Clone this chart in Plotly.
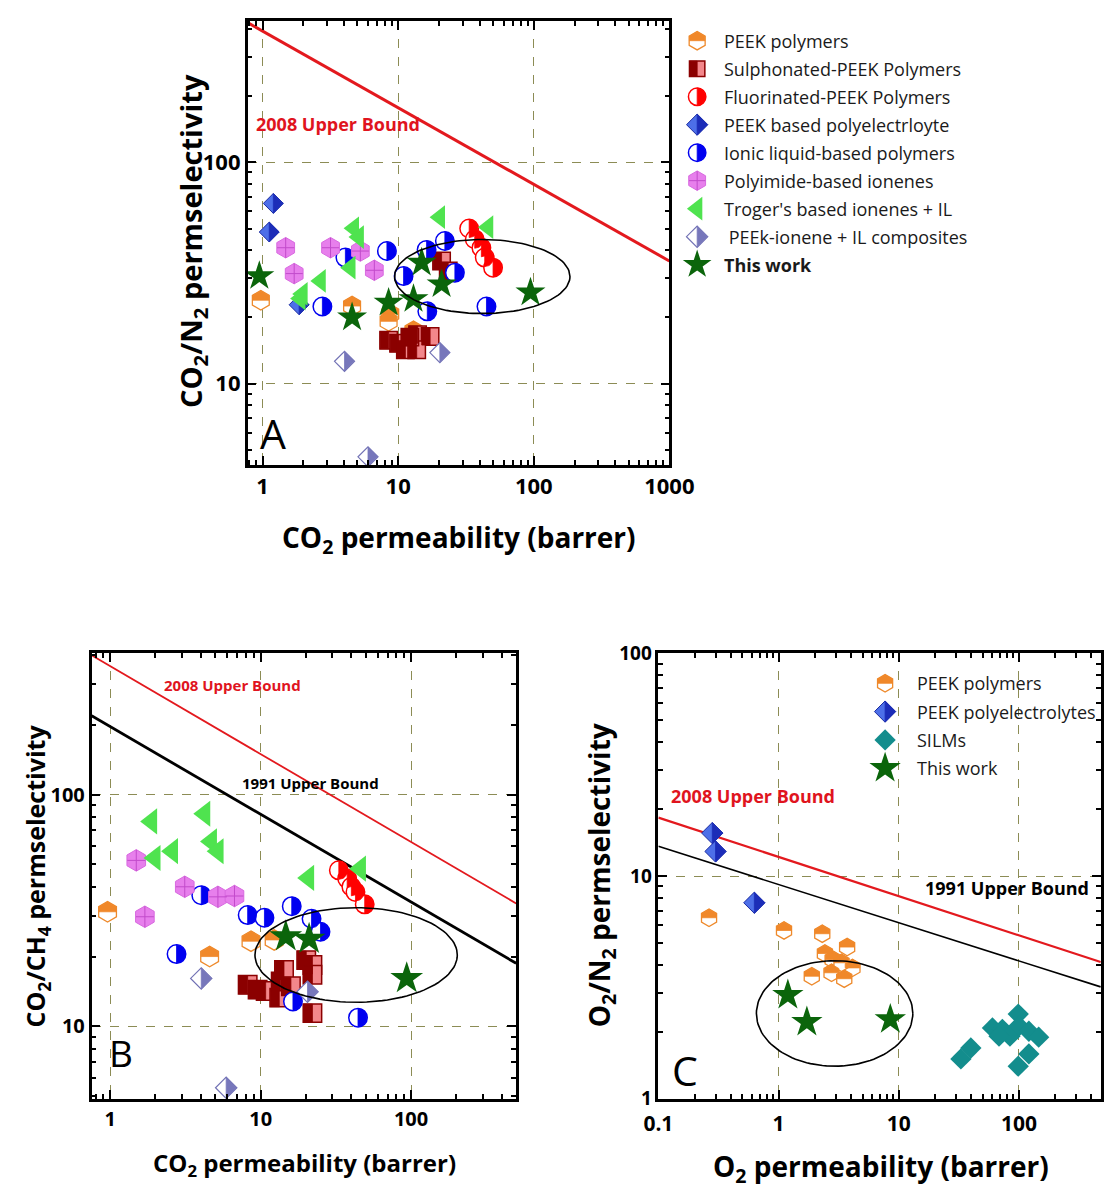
import numpy as np
import plotly.graph_objects as go

W, H = 1105, 1189          # target picture size (pixels)
# observed mapping page-css-px -> picture-px :  pic = A + B * css
AX, BX = 11.0, 0.970
AY, BY = 11.2, 0.982
FW = int(np.ceil((W - AX) / BX)) + 1
FH = int(np.ceil((H - AY) / BY)) + 1
FS = 1.03                  # font scale compensation
MS = 1.025                 # marker scale compensation
FONT = "Open Sans"

# ---------------- Panel A : CO2/N2 ----------------
A_peek_x = [0.97, 4.57, 8.74, 8.50, 12.97]
A_peek_y = [23.8, 22.4, 20.6, 19.1, 17.3]
A_speek_x = [20.9, 23.4, 8.50, 10.07, 11.3, 13.9, 17.2, 13.7, 12.2]
A_speek_y = [35.8, 32.3, 15.7, 15.2, 14.2, 16.6, 16.3, 14.2, 16.2]
A_fpeek_x = [33.4, 36.7, 41.1, 43.5, 50.1]
A_fpeek_y = [50.2, 44.9, 41.1, 37.1, 33.4]
A_pe_x = [1.20, 1.12, 1.86]
A_pe_y = [65.2, 48.4, 22.7]
A_il_x = [2.76, 4.08, 8.26, 10.96, 16.2, 22.1, 26.2, 16.4, 44.8]
A_il_y = [22.3, 37.1, 39.7, 30.6, 40.2, 44.1, 31.7, 21.2, 22.3]
A_pi_x = [1.48, 3.17, 5.26, 1.71, 6.67]
A_pi_y = [41.1, 41.1, 39.7, 31.4, 32.5]
A_tr_x = [20.3, 46.1, 4.71, 5.12, 4.44, 2.68, 1.97, 1.90]
A_tr_y = [56.5, 50.9, 50.3, 45.9, 33.4, 29.1, 25.4, 24.2]
A_pic_x = [4.02, 20.3, 5.99]
A_pic_y = [12.6, 13.8, 4.66]
A_tw_x = [0.946, 4.57, 8.50, 12.97, 14.9, 20.9, 94.6]
A_tw_y = [30.6, 19.9, 23.2, 24.1, 35.2, 28.1, 25.8]
A_ub08_x = [0.776, 1000]
A_ub08_y = [428, 35.8]
A_ell_x = [9.4, 185]
A_ell_y = [20.7, 44.8]

# ---------------- Panel B : CO2/CH4 ----------------
B_peek_x = [0.96, 8.63, 4.58, 12.3]
B_peek_y = [31.2, 23.3, 20.0, 23.6]
B_speek_x = [8.20, 9.55, 10.8, 13.3, 13.6, 14.3, 15.9, 20.1, 22.1, 22.1, 22.1]
B_speek_y = [15.1, 14.4, 14.2, 13.3, 15.6, 17.5, 14.9, 19.3, 18.4, 16.7, 11.4]
B_fpeek_x = [33.1, 37.6, 40.1, 42.7, 49.2]
B_fpeek_y = [47.1, 43.4, 40.0, 38.0, 33.6]
B_il_x = [4.03, 8.20, 10.6, 16.1, 21.8, 25.0, 2.76, 16.4, 44.4]
B_il_y = [36.8, 30.2, 29.4, 33.0, 29.1, 25.6, 20.5, 12.8, 10.9]
B_pi_x = [1.49, 3.13, 5.20, 6.70, 1.70]
B_pi_y = [52.0, 40.0, 36.2, 36.5, 29.7]
B_tr_x = [1.88, 4.24, 4.70, 5.20, 1.98, 2.59, 20.8, 46.0]
B_tr_y = [76.6, 82.6, 62.8, 56.9, 53.2, 57.0, 43.7, 47.9]
B_pic_x = [4.03, 20.5, 5.90]
B_pic_y = [16.1, 14.1, 5.43]
B_tw_x = [14.7, 21.0, 93.6]
B_tw_y = [24.4, 23.8, 16.1]
B_ub08_x = [0.752, 500]
B_ub08_y = [399, 33.9]
B_ub91_x = [0.752, 500]
B_ub91_y = [218.8, 18.7]
B_ell_x = [9.17, 203]
B_ell_y = [12.7, 32.5]

# ---------------- Panel C : O2/N2 ----------------
C_peek_x = [0.264, 1.11, 2.31, 3.72, 2.43, 2.82, 4.12, 2.76, 1.89, 3.52, 3.34]
C_peek_y = [6.50, 5.70, 5.51, 4.80, 4.49, 4.22, 3.87, 3.68, 3.55, 3.46, 4.08]
C_pe_x = [0.281, 0.299, 0.629]
C_pe_y = [15.6, 12.9, 7.59]
C_silm_x = [32.9, 39.8, 60.2, 72.8, 84.2, 98.7, 100, 121, 146, 121, 98.7, 68.3]
C_silm_y = [1.51, 1.69, 2.08, 2.05, 1.91, 2.40, 2.12, 2.01, 1.89, 1.59, 1.40, 1.91]
C_tw_x = [1.195, 1.72, 8.51]
C_tw_y = [2.92, 2.21, 2.27]
C_ub08_x = [0.1, 479]
C_ub08_y = [18.3, 4.11]
C_ub91_x = [0.1, 479]
C_ub91_y = [13.6, 3.18]
C_ell_x = [0.654, 13.1]
C_ell_y = [1.40, 4.17]

LEGEND_A = ["PEEK polymers", "Sulphonated-PEEK Polymers", "Fluorinated-PEEK Polymers",
            "PEEK based polyelectrloyte", "Ionic liquid-based polymers", "Polyimide-based ionenes",
            "Troger's based ionenes + IL", " PEEk-ionene + IL composites", "<b>This work</b>"]
LEGEND_A_KEYS = ["peek", "speek", "fpeek", "pe", "il", "pi", "tr", "pic", "tw"]
LEGEND_C = ["PEEK polymers", "PEEK polyelectrolytes", "SILMs", "This work"]
LEGEND_C_KEYS = ["peek", "pe", "silm", "tw"]


# ---------------- geometry (target pixel boxes -> paper) ----------------
def fx(t):
    return (t - AX) / BX


def fy(t):
    return (t - AY) / BY


def dom_x(a, b):
    return [max(0.0, fx(a) / FW), min(1.0, fx(b) / FW)]


def dom_y(top, bottom):
    return [max(0.0, 1 - fy(bottom) / FH), min(1.0, 1 - fy(top) / FH)]


A_dom_x = dom_x(245, 669);  A_dom_y = dom_y(19, 465)
A_rng_x = [-0.11, 3.0];     A_rng_y = [0.631, 2.640]
B_dom_x = dom_x(88, 515);   B_dom_y = dom_y(654, 1101)
B_rng_x = [-0.124, 2.699];  B_rng_y = [0.6875, 2.609]
C_dom_x = dom_x(658, 1103); C_dom_y = dom_y(654, 1101)
C_rng_x = [-1.0, 2.682];    C_rng_y = [0.0, 2.0]


def scale(dom, rng, total):
    return (dom[1] - dom[0]) * total / (rng[1] - rng[0])


L_rng_x = [AX, AX + BX * FW]
L_rng_y = [AY + BY * FH, AY]
PANELS = {
    "A": dict(xa="x", ya="y", sx=scale(A_dom_x, A_rng_x, FW), sy=scale(A_dom_y, A_rng_y, FH), log=True),
    "B": dict(xa="x2", ya="y2", sx=scale(B_dom_x, B_rng_x, FW), sy=scale(B_dom_y, B_rng_y, FH), log=True),
    "C": dict(xa="x3", ya="y3", sx=scale(C_dom_x, C_rng_x, FW), sy=scale(C_dom_y, C_rng_y, FH), log=True),
    "L": dict(xa="x4", ya="y4", sx=scale([0, 1], L_rng_x, FW), sy=scale([0, 1], L_rng_y, FH), log=False),
}

STYLE = {
    "peek": dict(symbol="hexagon", fill="white", line="#EE8A2C", lw=1.3, half="hex_top", hc="#F0882A"),
    "speek": dict(symbol="square", fill="#F3878B", line="#8B0000", lw=1.5, half="sq_left", hc="#8B0000"),
    "fpeek": dict(symbol="circle", fill="white", line="#FF0000", lw=1.5, half="circ_right", hc="#FF0000"),
    "pe": dict(symbol="diamond", fill="#4D6FE8", line="#1A2AA0", lw=1.0, half="dia_right", hc="#1C2DB8"),
    "il": dict(symbol="circle", fill="white", line="#0000F0", lw=1.5, half="circ_right", hc="#0000F0"),
    "pi": dict(symbol="hexagon", fill="#E77FEC", line="#D86AE0", lw=1.0, cross="#C24BCB"),
    "tr": dict(symbol="triangle-left", fill="#4FE34F", line="#4FE34F", lw=0),
    "pic": dict(symbol="diamond", fill="white", line="#7272B5", lw=1.2, half="dia_right", hc="#7777BB"),
    "tw": dict(symbol="star", fill="#0B650B", line="#0B650B", lw=0),
    "silm": dict(symbol="diamond", fill="#138D8D", line="#138D8D", lw=0),
}


def half_pts(kind, size):
    r = size / 2.0
    if kind == "circ_right":
        t = np.linspace(-np.pi / 2, np.pi / 2, 21)
        return [(r * np.cos(a), r * np.sin(a)) for a in t]
    if kind == "sq_left":
        return [(-r, -r), (0, -r), (0, r), (-r, r)]
    if kind == "dia_right":
        d = 1.3 * r
        return [(0, d), (d, 0), (0, -d)]
    if kind == "hex_top":
        s = r * np.sqrt(3) / 2
        return [(s, 0), (s, r / 2), (0, r), (-s, r / 2), (-s, 0)]
    return []


def move(p, x, y, dx, dy):
    if p["log"]:
        return 10 ** (np.log10(x) + dx / p["sx"]), 10 ** (np.log10(y) + dy / p["sy"])
    return x + dx / p["sx"], y + dy / p["sy"]


fig = go.Figure()


def add_series(panel, xs, ys, key, size):
    size = size * MS
    p = PANELS[panel]
    st = STYLE[key]
    fig.add_trace(go.Scatter(
        x=xs, y=ys, mode="markers", xaxis=p["xa"], yaxis=p["ya"], showlegend=False, hoverinfo="skip",
        marker=dict(symbol=st["symbol"], size=size, color=st["fill"],
                    line=dict(color=st["line"], width=st["lw"]))))
    if "half" in st:
        pts = half_pts(st["half"], size)
        X, Y = [], []
        for x, y in zip(xs, ys):
            for dx, dy in pts + [pts[0]]:
                a, b = move(p, x, y, dx, dy)
                X.append(a); Y.append(b)
            X.append(None); Y.append(None)
        fig.add_trace(go.Scatter(
            x=X, y=Y, mode="lines", fill="toself", fillcolor=st["hc"], xaxis=p["xa"], yaxis=p["ya"],
            line=dict(color=st["hc"], width=0.8), showlegend=False, hoverinfo="skip"))
    if "cross" in st:
        r = size / 2.0
        s = r * np.sqrt(3) / 2
        X, Y = [], []
        for x, y in zip(xs, ys):
            for seg in [((-s, 0), (s, 0)), ((0, -r), (0, r))]:
                for dx, dy in seg:
                    a, b = move(p, x, y, dx, dy)
                    X.append(a); Y.append(b)
                X.append(None); Y.append(None)
        fig.add_trace(go.Scatter(
            x=X, y=Y, mode="lines", xaxis=p["xa"], yaxis=p["ya"],
            line=dict(color=st["cross"], width=1), showlegend=False, hoverinfo="skip"))


def add_line(panel, xs, ys, color, width):
    p = PANELS[panel]
    fig.add_trace(go.Scatter(x=xs, y=ys, mode="lines", xaxis=p["xa"], yaxis=p["ya"],
                             line=dict(color=color, width=width), showlegend=False, hoverinfo="skip"))


def add_ellipse(panel, ex, ey):
    p = PANELS[panel]
    cx = (np.log10(ex[0]) + np.log10(ex[1])) / 2; rx = (np.log10(ex[1]) - np.log10(ex[0])) / 2
    cy = (np.log10(ey[0]) + np.log10(ey[1])) / 2; ry = (np.log10(ey[1]) - np.log10(ey[0])) / 2
    t = np.linspace(0, 2 * np.pi, 121)
    fig.add_trace(go.Scatter(x=10 ** (cx + rx * np.cos(t)), y=10 ** (cy + ry * np.sin(t)), mode="lines",
                             xaxis=p["xa"], yaxis=p["ya"], line=dict(color="black", width=1.6),
                             showlegend=False, hoverinfo="skip"))


# upper bounds
add_line("A", A_ub08_x, A_ub08_y, "#E3191E", 3)
add_line("B", B_ub08_x, B_ub08_y, "#E3191E", 1.8)
add_line("B", B_ub91_x, B_ub91_y, "black", 2.8)
add_line("C", C_ub08_x, C_ub08_y, "#E3191E", 2.2)
add_line("C", C_ub91_x, C_ub91_y, "black", 1.6)

# panel A
SZ_A = dict(peek=19, speek=17, fpeek=18, pe=15, il=18, pi=20, tr=20, pic=15, tw=22)
for key, xs, ys in [("peek", A_peek_x, A_peek_y), ("speek", A_speek_x, A_speek_y),
                    ("fpeek", A_fpeek_x, A_fpeek_y), ("pe", A_pe_x, A_pe_y), ("il", A_il_x, A_il_y),
                    ("pi", A_pi_x, A_pi_y), ("tr", A_tr_x, A_tr_y), ("pic", A_pic_x, A_pic_y),
                    ("tw", A_tw_x, A_tw_y)]:
    add_series("A", xs, ys, key, SZ_A[key])
add_ellipse("A", A_ell_x, A_ell_y)

# panel B
SZ_B = dict(peek=20, speek=18, fpeek=18, il=18, pi=21, tr=22, pic=16, tw=24)
for key, xs, ys in [("peek", B_peek_x, B_peek_y), ("speek", B_speek_x, B_speek_y),
                    ("fpeek", B_fpeek_x, B_fpeek_y), ("il", B_il_x, B_il_y),
                    ("pi", B_pi_x, B_pi_y), ("tr", B_tr_x, B_tr_y), ("pic", B_pic_x, B_pic_y),
                    ("tw", B_tw_x, B_tw_y)]:
    add_series("B", xs, ys, key, SZ_B[key])
add_ellipse("B", B_ell_x, B_ell_y)

# panel C
SZ_C = dict(peek=17, pe=16, silm=16, tw=23)
for key, xs, ys in [("peek", C_peek_x, C_peek_y), ("pe", C_pe_x, C_pe_y),
                    ("silm", C_silm_x, C_silm_y), ("tw", C_tw_x, C_tw_y)]:
    add_series("C", xs, ys, key, SZ_C[key])
add_ellipse("C", C_ell_x, C_ell_y)

annotations = []


def txt(x, y, text, size, color="black", bold=True, angle=0, xanchor="left"):
    annotations.append(dict(x=fx(x) / FW, y=1 - fy(y) / FH, xref="paper", yref="paper", text=text,
                            showarrow=False, xanchor=xanchor, yanchor="middle", textangle=angle,
                            font=dict(family=FONT, size=round(size * FS), color=color,
                                      weight="bold" if bold else "normal")))


# custom legends (pixel axis)
LEG_A_X, LEG_A_Y0, LEG_A_DY, LEG_A_TX = 697, 39, 28.1, 722
SZ_LA = dict(peek=18, speek=15, fpeek=17, pe=16, il=17, pi=19, tr=20, pic=16, tw=21)
for i, (key, label) in enumerate(zip(LEGEND_A_KEYS, LEGEND_A)):
    yy = LEG_A_Y0 + i * LEG_A_DY
    add_series("L", [LEG_A_X], [yy], key, SZ_LA[key])
    txt(LEG_A_TX, yy, label, 17.8, color="#1a1a1a", bold=False)
LEG_C_X, LEG_C_Y0, LEG_C_DY, LEG_C_TX = 886, 684, 28.4, 916
SZ_LC = dict(peek=17, pe=16, silm=16, tw=23)
for i, (key, label) in enumerate(zip(LEGEND_C_KEYS, LEGEND_C)):
    yy = LEG_C_Y0 + i * LEG_C_DY
    add_series("L", [LEG_C_X], [yy], key, SZ_LC[key])
    txt(LEG_C_TX, yy, label, 17.6, color="#1a1a1a", bold=False)

RED = "#E0141E"
txt(251, 123, "2008 Upper Bound", 17.3, RED)
txt(255, 433, "A", 40, bold=False)
txt(159, 686, "2008 Upper Bound", 15, RED)
txt(237, 784, "1991 Upper Bound", 15)
txt(104, 1055, "B", 36, bold=False)
txt(669, 797, "2008 Upper Bound", 17.3, RED)
txt(924, 889, "1991 Upper Bound", 17.3)
txt(670, 1072, "C", 40, bold=False)
# axis titles
txt(190, 240, "CO<sub>2</sub>/N<sub>2</sub> permselectivity", 28, angle=-90, xanchor="center")
txt(457, 539, "CO<sub>2</sub> permeability (barrer)", 27.3, xanchor="center")
txt(33, 877, "CO<sub>2</sub>/CH<sub>4</sub> permselectivity", 24, angle=-90, xanchor="center")
txt(302, 1166, "CO<sub>2</sub> permeability (barrer)", 23.6, xanchor="center")
txt(600, 877, "O<sub>2</sub>/N<sub>2</sub> permselectivity", 27.5, angle=-90, xanchor="center")
txt(882, 1171, "O<sub>2</sub> permeability (barrer)", 27.4, xanchor="center")


def fmt(v):
    return "0.1" if v < 1 else str(int(v))


def axis(dom, rng, vals, fsize, anchor, standoff=0):
    d = dict(type="log", domain=dom, range=rng, anchor=anchor, showline=True, linecolor="black",
             linewidth=2.5, mirror="allticks", ticks="inside", ticklen=9, tickwidth=2, tickcolor="black",
             tickmode="array", tickvals=vals, ticktext=[fmt(v) for v in vals],
             tickfont=dict(family=FONT, size=fsize, color="black", weight="bold"),
             showgrid=True, gridcolor="#8C8C55", griddash="dash", gridwidth=1, zeroline=False,
             minor=dict(ticks="inside", ticklen=5, tickwidth=1.5, tickcolor="black", dtick="D1",
                        showgrid=False))
    if standoff:
        d["ticklabelstandoff"] = standoff
    return d


A_xt = [1, 10, 100, 1000]; A_yt = [10, 100]
B_xt = [1, 10, 100];       B_yt = [10, 100]
C_xt = [0.1, 1, 10, 100];  C_yt = [1, 10, 100]

fig.update_layout(
    width=FW, height=FH, margin=dict(l=0, r=0, t=0, b=0), paper_bgcolor="white",
    plot_bgcolor="rgba(0,0,0,0)", showlegend=False, annotations=annotations,
    xaxis=axis(A_dom_x, A_rng_x, A_xt, 22, "y"), yaxis=axis(A_dom_y, A_rng_y, A_yt, 22, "x"),
    xaxis2=axis(B_dom_x, B_rng_x, B_xt, 20, "y2"), yaxis2=axis(B_dom_y, B_rng_y, B_yt, 20, "x2"),
    xaxis3=axis(C_dom_x, C_rng_x, C_xt, 21, "y3", standoff=4), yaxis3=axis(C_dom_y, C_rng_y, C_yt, 19, "x3"),
    xaxis4=dict(domain=[0, 1], range=L_rng_x, visible=False, anchor="y4", fixedrange=True),
    yaxis4=dict(domain=[0, 1], range=L_rng_y, visible=False, anchor="x4", fixedrange=True),
)
fig.write_html("out.html")
